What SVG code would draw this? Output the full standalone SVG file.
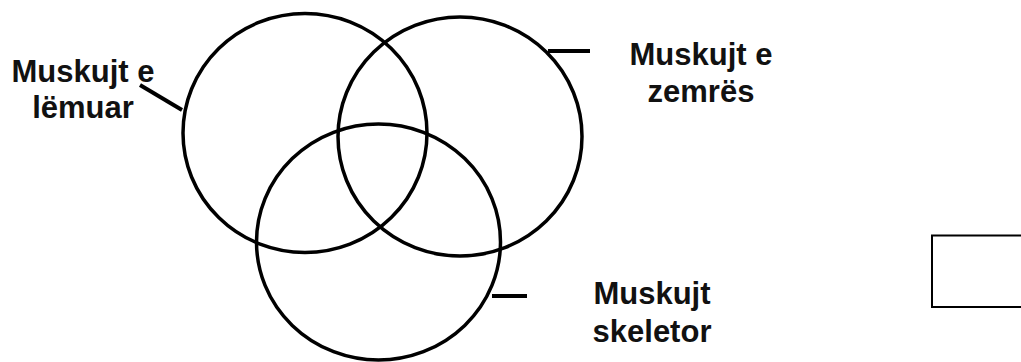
<svg xmlns="http://www.w3.org/2000/svg" width="1021" height="362" viewBox="0 0 1021 362">
<style>
.c{fill:none;stroke:#000;stroke-width:3.5}
.l{stroke:#000;stroke-width:4;fill:none}
text{font-family:"Liberation Sans",Arial,sans-serif;font-weight:bold;font-size:31px;fill:#111;text-anchor:middle}
</style>
<rect width="1021" height="362" fill="#fff"/>
<g id="circle-lemuar"><ellipse class="c" cx="305" cy="133" rx="122" ry="119.5"/></g>
<g id="circle-zemres"><ellipse class="c" cx="460" cy="136.5" rx="122" ry="119.5"/></g>
<g id="circle-skeletor"><ellipse class="c" cx="378.5" cy="242" rx="122" ry="118"/></g>
<g id="connectors">
<line class="l" x1="140" y1="85" x2="182" y2="110"/>
<line class="l" x1="548" y1="51" x2="590" y2="51"/>
<line class="l" x1="492" y1="296" x2="527" y2="296"/>
</g>
<g id="label-lemuar"><text x="83" y="82">Muskujt e</text><text x="83" y="118">lëmuar</text></g>
<g id="label-zemres"><text x="701" y="65">Muskujt e</text><text x="701" y="101.5">zemrës</text></g>
<g id="label-skeletor"><text x="652" y="304">Muskujt</text><text x="652" y="341.5">skeletor</text></g>
<g id="box"><rect x="932" y="235.5" width="100" height="71.5" fill="none" stroke="#000" stroke-width="2"/></g>
</svg>
